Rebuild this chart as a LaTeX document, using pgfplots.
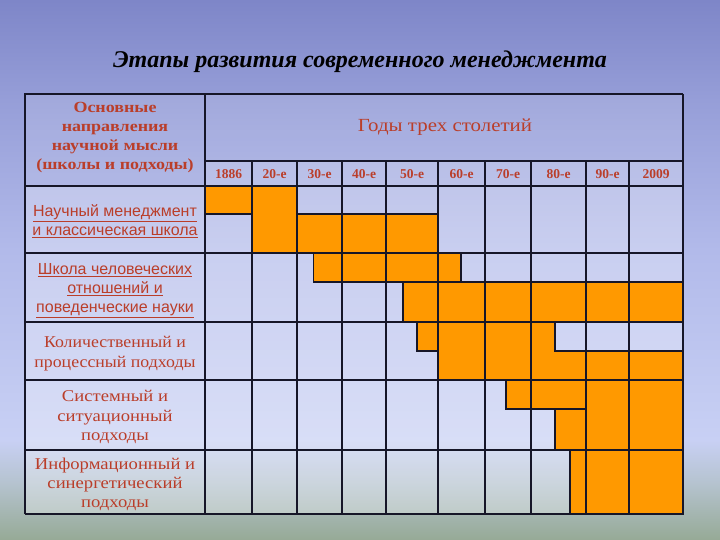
\documentclass[border=0pt]{standalone}
\usepackage{fontspec}
\setmainfont{Liberation Serif}
\newfontfamily\sansf{Liberation Sans}
\newfontfamily\wserif[FakeStretch=1.13]{Liberation Serif}
\newfontfamily\rserif[FakeStretch=1.08]{Liberation Serif}
\newfontfamily\hserif[FakeStretch=1.16]{Liberation Serif}
\usepackage{pgfplots}
\pgfplotsset{compat=1.18}
\definecolor{tred}{RGB}{186,62,42}
\definecolor{orng}{RGB}{255,153,0}
\definecolor{gridc}{RGB}{22,22,40}
\definecolor{bgA}{RGB}{126,134,200}
\definecolor{bgB}{RGB}{150,158,216}
\definecolor{bgC}{RGB}{178,186,234}
\definecolor{bgD}{RGB}{200,208,244}
\definecolor{bgE}{RGB}{180,194,205}
\definecolor{bgF}{RGB}{150,170,150}
\begin{document}
\begin{tikzpicture}
\begin{axis}[width=720bp,height=540bp,scale only axis,
  xmin=0,xmax=720,ymin=0,ymax=540,y dir=reverse,hide axis,clip=false]
% background
\shade[top color=bgA,bottom color=bgB] (axis cs:0,0) rectangle (axis cs:720,100.5);
\shade[top color=bgB,bottom color=bgC] (axis cs:0,100) rectangle (axis cs:720,250.5);
\shade[top color=bgC,bottom color=bgD] (axis cs:0,250) rectangle (axis cs:720,440.5);
\shade[top color=bgD,bottom color=bgE] (axis cs:0,440) rectangle (axis cs:720,485.5);
\shade[top color=bgE,bottom color=bgF] (axis cs:0,485) rectangle (axis cs:720,540);
% cells
\fill[white,opacity=0.12] (axis cs:25,94) rectangle (axis cs:683,161);
\fill[white,opacity=0.25] (axis cs:205,161) rectangle (axis cs:683,186);
\fill[white,opacity=0.12] (axis cs:25,161) rectangle (axis cs:205,186);
\fill[white,opacity=0.3] (axis cs:25,186) rectangle (axis cs:683,514);
% orange blocks
\addplot[fill=orng,draw=gridc,line width=1.2bp] coordinates {(205,186) (252,186) (252,214) (205,214)} -- cycle;
\addplot[fill=orng,draw=gridc,line width=1.2bp] coordinates {(252,186) (297,186) (297,253) (252,253)} -- cycle;
\addplot[fill=orng,draw=gridc,line width=1.2bp] coordinates {(297,214) (438,214) (438,253) (297,253)} -- cycle;
\addplot[fill=orng,draw=gridc,line width=1.2bp] coordinates {(313.5,253) (461,253) (461,282) (313.5,282)} -- cycle;
\addplot[fill=orng,draw=gridc,line width=1.2bp] coordinates {(403,282) (683,282) (683,322) (403,322)} -- cycle;
\addplot[fill=orng,draw=gridc,line width=1.2bp] coordinates {(417,322) (555,322) (555,351) (683,351) (683,380) (438,380) (438,351) (417,351)} -- cycle;
\addplot[fill=orng,draw=gridc,line width=1.2bp] coordinates {(506,380) (586,380) (586,409) (506,409)} -- cycle;
\addplot[fill=orng,draw=gridc,line width=1.2bp] coordinates {(555,409) (586,409) (586,450) (555,450)} -- cycle;
\addplot[fill=orng,draw=gridc,line width=1.2bp] coordinates {(586,380) (683,380) (683,450) (586,450)} -- cycle;
\addplot[fill=orng,draw=gridc,line width=1.2bp] coordinates {(570,450) (683,450) (683,514) (570,514)} -- cycle;
% grid
\draw[gridc,line width=1.4bp]
  (axis cs:25,94) -- (axis cs:683,94)
  (axis cs:205,161) -- (axis cs:683,161)
  (axis cs:25,186) -- (axis cs:683,186)
  (axis cs:25,253) -- (axis cs:683,253)
  (axis cs:25,322) -- (axis cs:683,322)
  (axis cs:25,380) -- (axis cs:683,380)
  (axis cs:25,450) -- (axis cs:683,450)
  (axis cs:25,514) -- (axis cs:683,514)
  (axis cs:25,94) -- (axis cs:25,514)
  (axis cs:205,94) -- (axis cs:205,514)
  (axis cs:683,94) -- (axis cs:683,514)
  (axis cs:252,161) -- (axis cs:252,514)
  (axis cs:297,161) -- (axis cs:297,514)
  (axis cs:342,161) -- (axis cs:342,514)
  (axis cs:386,161) -- (axis cs:386,514)
  (axis cs:438,161) -- (axis cs:438,514)
  (axis cs:485,161) -- (axis cs:485,514)
  (axis cs:531,161) -- (axis cs:531,514)
  (axis cs:586,161) -- (axis cs:586,514)
  (axis cs:629,161) -- (axis cs:629,514);
\draw[gridc,line width=2.6bp] (axis cs:25,94) rectangle (axis cs:205,186);
% title
\node[font=\fontsize{24bp}{27bp}\selectfont\bfseries\itshape,text=black] at (axis cs:360,62) {Этапы развития современного менеджмента};
% headers
\node[font=\hserif\fontsize{15.5bp}{19.3bp}\selectfont\bfseries,text=tred,align=center] at (axis cs:115,137.5) {Основные\\направления\\научной мысли\\(школы и подходы)};
\node[font=\wserif\fontsize{18.5bp}{20bp}\selectfont,text=tred] at (axis cs:445,127) {Годы трех столетий};
\begin{scope}[every node/.style={font=\fontsize{13.5bp}{15bp}\selectfont\bfseries,text=tred}]
\node at (axis cs:228.5,174.5) {1886};
\node at (axis cs:274.5,174.5) {20-е};
\node at (axis cs:319.5,174.5) {30-е};
\node at (axis cs:364,174.5) {40-е};
\node at (axis cs:412,174.5) {50-е};
\node at (axis cs:461.5,174.5) {60-е};
\node at (axis cs:508,174.5) {70-е};
\node at (axis cs:558.5,174.5) {80-е};
\node at (axis cs:607.5,174.5) {90-е};
\node at (axis cs:656,174.5) {2009};
\end{scope}
% row labels
\node[font=\sansf\fontsize{16bp}{19.5bp}\selectfont,text=tred,align=center] at (axis cs:115,221) {\underline{Научный менеджмент}\\\underline{и классическая школа}};
\node[font=\sansf\fontsize{16bp}{19bp}\selectfont,text=tred,align=center] at (axis cs:115,290.5) {\underline{Школа человеческих}\\\underline{отношений и}\\\underline{поведенческие науки}};
\node[font=\rserif\fontsize{16.5bp}{20bp}\selectfont,text=tred,align=center] at (axis cs:115,354) {Количественный и\\процессный подходы};
\node[font=\wserif\fontsize{16.5bp}{19.5bp}\selectfont,text=tred,align=center] at (axis cs:115,417) {Системный и\\ситуационный\\подходы};
\node[font=\wserif\fontsize{16.5bp}{19.3bp}\selectfont,text=tred,align=center] at (axis cs:115,484.5) {Информационный и\\синергетический\\подходы};
\end{axis}
\end{tikzpicture}
\end{document}
